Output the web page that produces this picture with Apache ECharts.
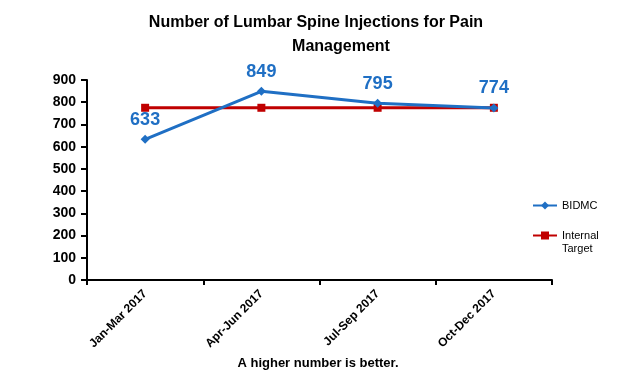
<!DOCTYPE html>
<html><head><meta charset="utf-8">
<script src="https://cdn.jsdelivr.net/npm/echarts@6/dist/echarts.min.js"></script>
<style>html,body{margin:0;padding:0;background:#fff}#c{width:620px;height:374px}</style>
</head><body><div id="c"></div>
<script>
var categories = ['Jan-Mar 2017', 'Apr-Jun 2017', 'Jul-Sep 2017', 'Oct-Dec 2017'];
var bidmc = [633, 849, 795, 774];
var target = [775, 775, 775, 775];
var yTicks = [0, 100, 200, 300, 400, 500, 600, 700, 800, 900];

var F = 'Arial, "Liberation Sans", sans-serif';
var chart = echarts.init(document.getElementById('c'), null, {renderer: 'canvas'});
chart.setOption({
  animation: false,
  backgroundColor: '#fff',
  title: [
    {text: 'Number of Lumbar Spine Injections for Pain', left: 311, top: 10, textAlign: 'center',
     textStyle: {fontFamily: F, fontSize: 16, fontWeight: 'bold', color: '#000'}},
    {text: 'Management', left: 336, top: 34, textAlign: 'center',
     textStyle: {fontFamily: F, fontSize: 16, fontWeight: 'bold', color: '#000'}},
    {text: 'A higher number is better.', left: 313, top: 352, textAlign: 'center',
     textStyle: {fontFamily: F, fontSize: 13, fontWeight: 'bold', color: '#000'}}
  ],
  legend: [
    {data: ['BIDMC'], left: 527, top: 195, orient: 'vertical', itemWidth: 24, itemHeight: 10,
     itemGap: 4, textStyle: {fontFamily: F, fontSize: 11, color: '#000'}},
    {data: [{name: 'Internal Target'}], left: 527, top: 211, orient: 'vertical', itemWidth: 24, itemHeight: 10,
     formatter: function () { return ' \nInternal\nTarget'; },
     textStyle: {fontFamily: F, fontSize: 11, color: '#000', lineHeight: 13}}
  ],
  grid: {left: 87, right: 68, top: 80, bottom: 94, containLabel: false},
  xAxis: {
    type: 'category', data: categories, boundaryGap: true,
    axisLine: {lineStyle: {color: '#000', width: 2}},
    axisTick: {show: true, interval: 0, length: 5, lineStyle: {color: '#000', width: 2}},
    axisLabel: {interval: 0, rotate: 45, margin: 12, fontFamily: F, fontSize: 12, fontWeight: 'bold', color: '#000'},
    splitLine: {show: false}
  },
  yAxis: {
    type: 'value', min: yTicks[0], max: yTicks[yTicks.length - 1], interval: 100,
    axisLine: {show: true, lineStyle: {color: '#000', width: 2}},
    axisTick: {show: true, length: 6, lineStyle: {color: '#000', width: 2}},
    axisLabel: {margin: 11, fontFamily: F, fontSize: 14, fontWeight: 'bold', color: '#000'},
    splitLine: {show: false}
  },
  series: [
    {name: 'Internal Target', type: 'line', data: target, symbol: 'rect', symbolSize: 8,
     itemStyle: {color: '#C00000'}, lineStyle: {color: '#C00000', width: 3}, z: 2},
    {name: 'BIDMC', type: 'line', data: bidmc, symbol: 'diamond', symbolSize: 9,
     itemStyle: {color: '#1F6FC4'}, lineStyle: {color: '#1F6FC4', width: 3},
     label: {show: true, position: 'top', distance: 6, fontFamily: F, fontSize: 18, fontWeight: 'bold', color: '#1F6FC4'},
     z: 3}
  ]
});
</script></body></html>
